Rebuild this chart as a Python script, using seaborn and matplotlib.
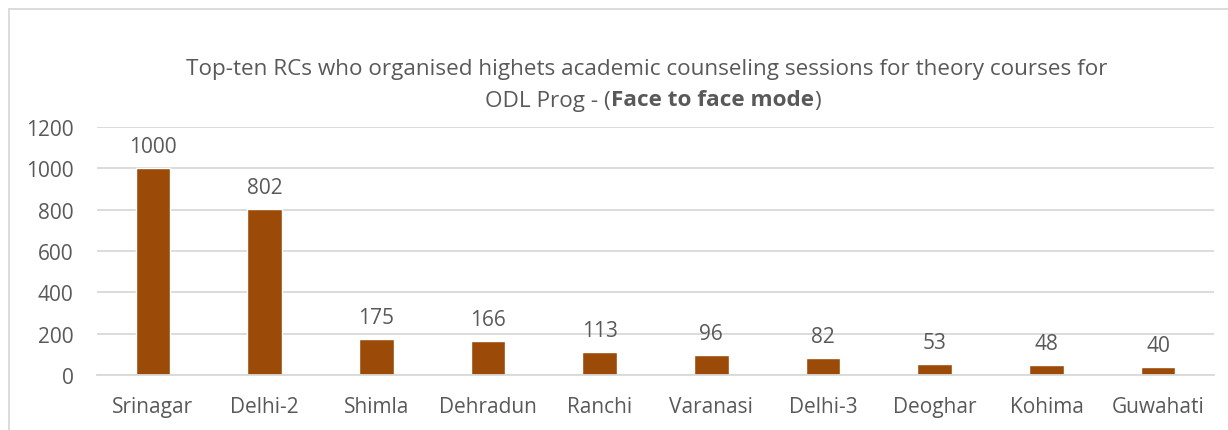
import matplotlib
matplotlib.use("Agg")
import matplotlib.pyplot as plt
import seaborn as sns
import pandas as pd
from matplotlib.patches import Rectangle

categories = ["Srinagar", "Delhi-2", "Shimla", "Dehradun", "Ranchi",
              "Varanasi", "Delhi-3", "Deoghar", "Kohima", "Guwahati"]
values = [1000, 802, 175, 166, 113, 96, 82, 53, 48, 40]
yticks = [0, 200, 400, 600, 800, 1000, 1200]
title_line1 = "Top-ten RCs who organised highets academic counseling sessions for theory courses for"
title_line2 = ["ODL Prog - (", "Face to face mode", ")"]

sns.set_theme(style="white")
plt.rcParams['font.family'] = ['Open Sans', 'DejaVu Sans']

TXT = "#595959"
BAR = "#9C4A08"
GRID = "#D9D9D9"
FS = 15

fig = plt.figure(figsize=(12.28, 4.31), dpi=100)
ax = fig.add_axes([0.079, 0.1276, 0.9096, 0.5754])

df = pd.DataFrame({"RC": categories, "Sessions": values})
sns.barplot(data=df, x="RC", y="Sessions", color=BAR, width=0.31,
            saturation=1, ax=ax, order=categories)

ax.set_ylim(0, 1200)
ax.set_yticks(yticks)
ax.set_yticklabels([str(v) for v in yticks])
ax.set_xlim(-0.5, len(categories) - 0.5)
ax.yaxis.grid(True, color=GRID, linewidth=1.3)
ax.set_axisbelow(True)
for s in ax.spines.values():
    s.set_visible(False)
ax.spines["bottom"].set_visible(True)
ax.spines["bottom"].set_color(GRID)
ax.spines["bottom"].set_linewidth(1.3)
ax.tick_params(axis="both", length=0, labelsize=FS, labelcolor=TXT)
ax.tick_params(axis="y", pad=17)
ax.tick_params(axis="x", pad=15)
ax.set_xlabel("")
ax.set_ylabel("")

for c in ax.containers:
    ax.bar_label(c, labels=[str(v) for v in values], padding=8,
                 fontsize=FS, color=TXT)

# title
TFS = 16.2
fig.text(647 / 1228, 1 - 69 / 431, title_line1, ha="center", va="center",
         fontsize=TFS, color=TXT)
fig.canvas.draw()
r = fig.canvas.get_renderer()
parts = []
weights = ["normal", "bold", "normal"]
for t, w in zip(title_line2, weights):
    parts.append(fig.text(0, 1 - 101 / 431, t, ha="left", va="center",
                          fontsize=TFS, color=TXT, fontweight=w))
widths = [p.get_window_extent(r).width for p in parts]
total = sum(widths)
x0 = 653 - total / 2
for p, w in zip(parts, widths):
    p.set_x(x0 / fig.bbox.width)
    x0 += w

# border
fig.patches.append(Rectangle((9 / 1228, -0.1), 1.2, 1 - 10 / 431 + 0.1,
                             transform=fig.transFigure, fill=False,
                             edgecolor="#D9D9D9", linewidth=1.3))

fig.savefig("out.png", dpi=100)
